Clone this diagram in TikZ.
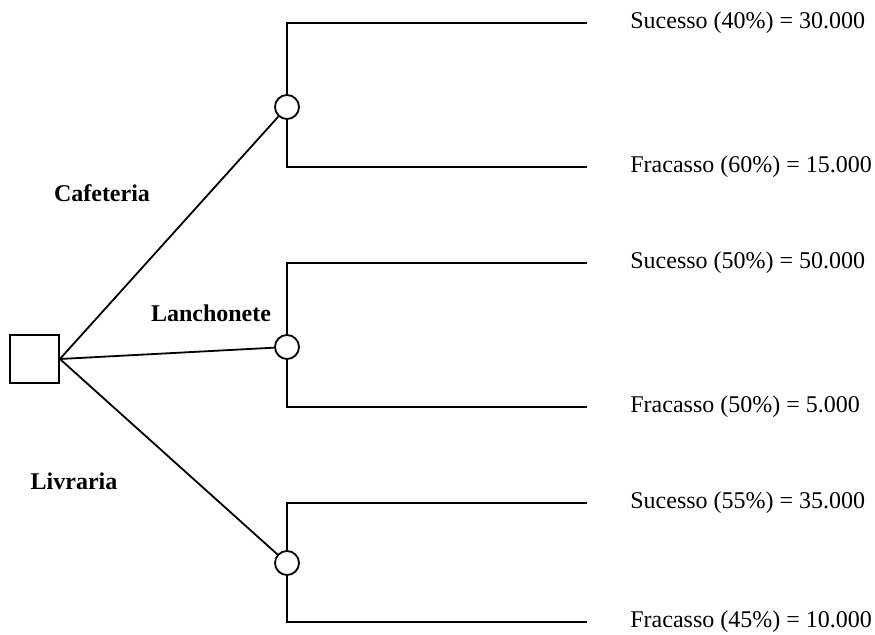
\documentclass[tikz,border=0pt]{standalone}
\usepackage{fontspec}
\setmainfont{Liberation Serif}

\tikzset{
    decision/.style = {draw, rectangle, line width=0.9pt, minimum width=24.5pt, minimum height=24pt, inner sep=0pt},
    chance/.style   = {draw, circle, line width=0.9pt, minimum size=12pt, inner sep=0pt, fill=white},
    choice/.style   = {font=\fontsize{12}{14}\selectfont\bfseries},
    outcome/.style  = {anchor=west, inner sep=0pt, font=\fontsize{12}{14}\selectfont},
    branch/.style   = {line width=0.9pt, shorten >=21.5pt}
}

\begin{document}
\begin{tikzpicture}[x=0.5pt, y=-0.5pt]
    \useasboundingbox (0,0) rectangle (875,635);

    % decision and chance nodes
    \node[decision] (dec)  at (34.5,359) {};
    \node[chance]   (caf)  at (287,107)  {};
    \node[chance]   (lan)  at (287,347)  {};
    \node[chance]   (liv)  at (287,563)  {};

    % outcomes
    \node[outcome]  (caf1) at (630,23)   {Sucesso (40\%) = 30.000};
    \node[outcome]  (caf2) at (630,167)  {Fracasso (60\%) = 15.000};
    \node[outcome]  (lan1) at (630,263)  {Sucesso (50\%) = 50.000};
    \node[outcome]  (lan2) at (630,407)  {Fracasso (50\%) = 5.000};
    \node[outcome]  (liv1) at (630,503)  {Sucesso (55\%) = 35.000};
    \node[outcome]  (liv2) at (630,622)  {Fracasso (45\%) = 10.000};

    % choice labels
    \node[choice]   (lcaf) at (102,193)  {Cafeteria};
    \node[choice]   (llan) at (211,313)  {Lanchonete};
    \node[choice]   (lliv) at (74,481)   {Livraria};

    \draw[line width=0.9pt]  (dec.east) -- (caf);
    \draw[line width=0.9pt]  (dec.east) -- (lan);
    \draw[line width=0.9pt]  (dec.east) -- (liv);

    \draw[branch]   (caf.north) |- (caf1.west);
    \draw[branch]   (caf.south) |- (caf2.west);
    \draw[branch]   (lan.north) |- (lan1.west);
    \draw[branch]   (lan.south) |- (lan2.west);
    \draw[branch]   (liv.north) |- (liv1.west);
    \draw[branch]   (liv.south) |- (liv2.west);
\end{tikzpicture}
\end{document}
